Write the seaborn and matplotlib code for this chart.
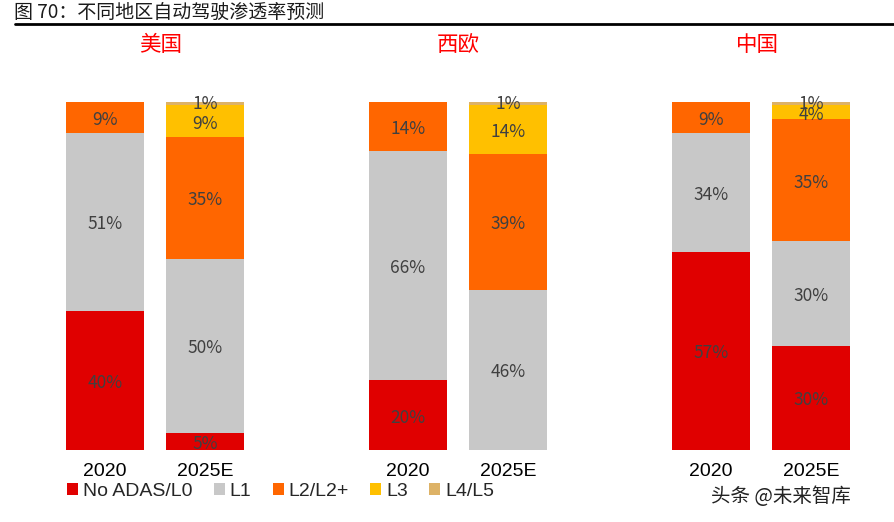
import matplotlib
matplotlib.use("Agg")
import matplotlib.pyplot as plt
import seaborn as sns
import pandas as pd
from matplotlib.patches import Patch
from matplotlib.lines import Line2D

sns.set_style("white")
plt.rcParams['font.family'] = ['Noto Sans CJK SC', 'DejaVu Sans']

regions = ["美国", "西欧", "中国"]
years = ["2020", "2025E"]
levels = ["No ADAS/L0", "L1", "L2/L2+", "L3", "L4/L5"]
colors = ["#E00000", "#C8C8C8", "#FF6600", "#FFC000", "#DDB266"]

# values per region: [2020, 2025E] for each level
us_l0 = [40, 5]
us_l1 = [51, 50]
us_l2 = [9, 35]
us_l3 = [0, 9]
us_l45 = [0, 1]

we_l0 = [20, 0]
we_l1 = [66, 46]
we_l2 = [14, 39]
we_l3 = [0, 14]
we_l45 = [0, 1]

cn_l0 = [57, 30]
cn_l1 = [34, 30]
cn_l2 = [9, 35]
cn_l3 = [0, 4]
cn_l45 = [0, 1]

data = {
    "美国": [us_l0, us_l1, us_l2, us_l3, us_l45],
    "西欧": [we_l0, we_l1, we_l2, we_l3, we_l45],
    "中国": [cn_l0, cn_l1, cn_l2, cn_l3, cn_l45],
}

W, H = 894, 522
fig = plt.figure(figsize=(W / 100, H / 100), dpi=100)

# title and rule
fig.text(14 / W, 1 - 12 / H, "图 70：不同地区自动驾驶渗透率预测", fontsize=13.7,
         color="#1a1a1a", ha="left", va="center")
fig.add_artist(Line2D([15 / W, 1.0], [1 - 23.5 / H, 1 - 23.5 / H], color="black", lw=2))

centers = [105, 408, 711]
title_x = [161, 458, 757]
for i, reg in enumerate(regions):
    left = (centers[i] - 60) / W
    ax = fig.add_axes([left, 1 - 450 / H, 220 / W, 348 / H])
    vals = data[reg]
    bottom = [0, 0]
    for li, lev in enumerate(levels):
        df = pd.DataFrame({"year": years, "v": vals[li]})
        sns.barplot(data=df, x="year", y="v", order=years, color=colors[li],
                    bottom=bottom, width=0.78, ax=ax, saturation=1, linewidth=0)
        for xi in range(2):
            v = vals[li][xi]
            if v > 0:
                yc = bottom[xi] + v / 2 - 0.7
                if lev == "L4/L5":
                    yc = bottom[xi] + v / 2 - 0.2
                ax.text(xi, yc, f"{v}%", ha="center", va="center",
                        fontsize=12.5, color="#404040")
        bottom = [bottom[k] + vals[li][k] for k in range(2)]
    ax.set_xlim(-0.6, 1.6)
    ax.set_ylim(0, 100)
    ax.set_xlabel("")
    ax.set_ylabel("")
    ax.set_yticks([])
    ax.tick_params(axis="x", length=0, pad=9, colors="black")
    for lab in ax.get_xticklabels():
        lab.set_fontfamily(["Liberation Sans", "DejaVu Sans"])
        lab.set_fontsize(14)
    for s in ax.spines.values():
        s.set_visible(False)
    fig.text(title_x[i] / W, 1 - 45 / H, reg, fontsize=15.5, color="#FF0000",
             ha="center", va="center")

handles = [Patch(facecolor=c, edgecolor="none") for c in colors]
fig.legend(handles, levels, loc="center left", bbox_to_anchor=(67 / W, 1 - 491 / H),
           ncol=5, frameon=False, prop={"family": ["Liberation Sans", "DejaVu Sans"], "size": 14},
           handlelength=0.57, handleheight=0.57,
           handletextpad=0.26, columnspacing=1.08, borderaxespad=0, borderpad=0)

fig.text(711 / W, 1 - 497 / H, "头条 @未来智库", fontsize=14, color="#222222",
         ha="left", va="center")

fig.savefig("out.png", dpi=100)
